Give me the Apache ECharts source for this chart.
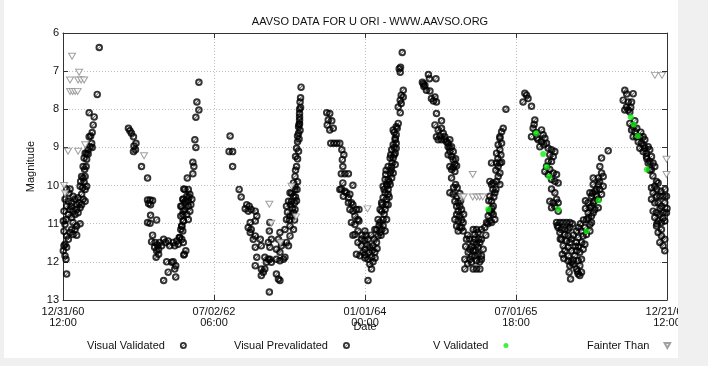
<!DOCTYPE html>
<html><head><meta charset="utf-8">
<script src="https://cdn.jsdelivr.net/npm/echarts@6/dist/echarts.min.js"></script>
<style>
html,body{margin:0;padding:0;background:#f0f0f0;width:708px;height:366px;overflow:hidden}
#c{position:absolute;left:4px;top:0;width:674px;height:358px;background:#fff}
</style></head><body><div id="c"></div>
<script>
// x values: decimal years; axis counted in years from EPOCH (12/31/60 12:00)
const EPOCH = 1961.0;
const tickLabels = ['12/31/60\n12:00', '07/02/62\n06:00', '01/01/64\n00:00', '07/01/65\n18:00', '12/21/66\n12:00'];
const magTicks = [6, 7, 8, 9, 10, 11, 12, 13];

const visualValidated = [
// cycle 1
[1961.36,6.38],[1961.34,7.61],[1961.26,8.09],[1961.31,8.2],[1961.30,8.41],[1961.29,8.61],[1961.275,8.7],[1961.26,8.72],[1961.285,8.89],[1961.27,8.98],[1961.25,9.06],[1961.235,9.15],[1961.25,9.17],[1961.29,9.0],[1961.22,9.15],[1961.21,9.28],[1961.235,9.31],[1961.23,9.5],[1961.20,9.5],[1961.215,9.58],[1961.185,9.76],[1961.20,9.8],[1961.22,9.76],[1961.175,9.89],[1961.21,9.91],[1961.235,10.02],[1961.17,10.02],[1961.195,10.06],[1961.22,10.1],
[1961.036,10.1],[1961.07,10.09],[1961.10,10.28],[1961.02,10.36],[1961.053,10.41],[1961.086,10.45],[1961.12,10.36],[1961.15,10.32],[1961.185,10.23],[1961.20,10.36],[1961.22,10.41],[1961.036,10.54],[1961.07,10.63],[1961.10,10.67],[1961.136,10.63],[1961.17,10.58],[1961.185,10.5],[1961.01,10.67],[1961.053,10.76],[1961.086,10.84],[1961.12,10.76],[1961.15,10.71],[1961.03,10.89],[1961.003,10.93],[1961.02,11.02],[1961.10,10.97],[1961.136,11.06],[1961.12,11.15],[1961.086,11.15],[1961.07,11.23],[1961.10,11.28],[1961.136,11.3],[1961.036,11.32],[1961.053,11.41],[1961.02,11.54],[1961.036,11.62],[1961.01,11.58],[1961.003,11.71],[1961.02,11.84],[1961.03,11.93],[1961.17,11.0],[1961.036,12.32],[1961.01,11.2],[1961.06,10.2],[1961.14,10.5],[1961.08,10.55],[1961.16,10.45],
// cycle 2
[1961.65,8.5],[1961.665,8.56],[1961.68,8.63],[1961.70,8.72],[1961.725,8.89],[1961.705,8.96],[1961.70,9.11],[1961.72,9.06],[1961.78,9.5],[1961.84,9.8],[1961.84,10.38],[1961.865,10.38],[1961.89,10.39],[1961.85,10.47],[1961.87,10.5],[1961.84,10.97],[1961.865,10.99],[1961.87,10.78],[1961.93,10.9],[1961.89,11.3],[1961.88,11.47],[1961.915,11.49],[1961.94,11.56],[1961.96,11.49],[1961.91,11.62],[1961.93,11.71],[1961.95,11.67],[1961.98,11.58],[1962.0,11.41],[1962.02,11.49],[1962.045,11.45],[1962.06,11.58],[1962.095,11.49],[1962.11,11.58],[1962.13,11.45],[1962.145,11.54],[1962.16,11.36],[1962.03,12.0],[1962.08,12.01],[1962.095,12.0],[1962.12,12.1],[1962.11,12.19],[1962.045,12.27],[1962.0,12.49],[1962.12,12.4],[1961.925,11.88],[1961.95,11.8],
[1962.2,10.09],[1962.19,10.36],[1962.17,10.54],[1962.195,10.67],[1962.17,10.8],[1962.195,10.93],[1962.18,11.06],[1962.17,11.15],[1962.155,11.36],[1962.195,11.49],[1962.205,11.8],
[1962.35,7.29],[1962.33,7.81],[1962.35,8.02],[1962.32,8.21],[1962.31,8.8],[1962.32,9.0],[1962.29,9.39],[1962.30,9.5],[1962.29,9.69],[1962.235,9.8],
[1962.21,10.1],[1962.245,10.1],[1962.26,10.23],[1962.23,10.28],[1962.195,10.36],[1962.245,10.41],[1962.28,10.36],[1962.21,10.45],[1962.245,10.54],[1962.18,10.54],[1962.21,10.63],[1962.26,10.67],[1962.23,10.76],[1962.19,10.76],[1962.245,10.89],[1962.195,10.93],[1962.18,11.06],[1962.19,11.19],[1962.18,11.41],[1962.22,11.71],[1962.2,11.82],[1962.27,10.5],[1962.25,10.3],[1962.22,10.4],
// cycle 3
[1962.66,8.7],[1962.65,9.11],[1962.685,9.11],[1962.685,9.5],[1962.75,10.1],[1962.77,10.3],
[1962.825,10.5],[1962.85,10.54],[1962.81,10.61],[1962.84,10.67],[1962.87,10.63],[1962.91,10.67],[1962.925,10.8],[1962.91,10.93],
[1962.86,10.97],[1962.84,11.1],[1962.87,11.15],[1962.86,11.23],[1962.91,11.32],[1962.89,11.41],[1962.96,11.41],[1962.97,11.58],[1962.91,11.62],[1962.925,11.88],[1963.005,11.88],[1963.04,11.93],[1963.07,12.01],[1963.055,11.93],[1963.02,12.01],[1963.12,11.93],[1963.155,11.97],[1963.19,11.93],[1963.205,11.88],[1962.91,12.1],[1962.97,12.19],[1963.005,12.19],[1962.99,12.27],[1962.97,12.36],[1963.12,12.32],[1963.14,12.45],[1963.155,12.49],[1963.05,12.79],[1963.055,10.97],[1963.05,11.19],[1963.07,11.41],[1963.04,11.49],[1963.055,11.62],[1963.12,11.67],[1963.155,11.75],[1963.17,11.58],[1963.14,11.41],[1963.155,11.23],[1963.17,11.49],[1963.22,11.49],[1963.24,11.58],[1963.255,11.32],[1963.205,11.15],[1963.255,11.06],[1963.29,11.15],[1963.22,10.89],[1963.255,10.8],[1963.29,10.71],[1963.305,10.63],[1963.22,10.54],[1963.24,10.41],[1963.27,10.41],[1963.29,10.28],[1963.255,10.19],[1963.305,10.1],[1963.305,10.02],[1963.29,9.93],[1963.305,9.76],[1963.32,9.5],[1963.31,9.24],[1963.32,9.02],[1963.33,8.85],[1963.34,8.63],[1963.34,8.46],[1963.35,8.28],[1963.35,8.11],[1963.355,7.81],[1963.365,7.42],
[1963.26,10.5],[1963.28,10.6],[1963.30,10.45],[1963.27,10.2],[1963.31,10.3],[1963.28,10.8],[1963.25,10.9],[1963.23,10.7],[1963.3,10.9],[1963.32,10.4],[1963.325,10.1],[1963.33,9.9],[1963.31,9.6],[1963.33,9.3],[1963.34,9.1],[1963.33,8.7],[1963.345,8.4],[1963.35,8.2],[1963.35,8.0],[1963.36,7.7],[1963.355,8.55],[1963.35,8.38],[1963.345,8.78],[1963.36,7.95],
// cycle 4
[1963.62,8.09],[1963.65,8.11],[1963.635,8.28],[1963.67,8.3],[1963.625,8.41],[1963.65,8.54],[1963.685,8.5],[1963.66,8.89],[1963.69,8.89],[1963.72,8.89],[1963.75,8.89],[1963.77,9.06],[1963.79,9.19],[1963.775,9.32],[1963.78,9.5],[1963.765,9.69],[1963.8,9.69],[1963.835,9.69],[1963.78,9.93],[1963.765,10.09],[1963.75,10.1],[1963.8,10.15],[1963.785,10.28],[1963.815,10.19],[1963.85,10.23],[1963.835,10.32],[1963.88,9.99],[1963.865,10.45],[1963.835,10.45],[1963.88,10.5],[1963.85,10.63],[1963.88,10.67],[1963.915,10.63],[1963.94,10.63],[1963.9,10.8],[1963.93,10.89],[1963.865,10.97],[1963.9,11.02],[1963.94,10.93],[1963.9,11.28],[1963.88,11.3],[1963.93,11.19],[1963.999,11.19],[1963.965,11.41],[1963.93,11.49],[1963.999,11.45],[1964.03,11.41],[1963.965,11.58],[1963.999,11.67],[1964.048,11.62],[1963.915,11.8],[1963.95,11.84],[1963.999,11.82],[1964.03,11.93],[1964.065,11.88],[1964.098,11.75],[1964.08,11.58],[1964.115,11.49],[1964.13,11.32],[1964.098,11.15],[1964.115,11.15],[1964.065,12.19],[1964.048,12.06],[1964.03,12.49],
[1963.97,11.3],[1964.01,11.3],[1964.02,11.55],[1963.98,11.75],[1964.04,11.75],[1964.07,11.7],[1964.09,11.4],[1964.06,11.3],[1964.1,11.9],[1964.12,11.65],[1964.0,11.9],[1964.08,12.0],
[1964.15,11.23],[1964.165,11.15],[1964.2,11.19],[1964.15,10.97],[1964.13,10.89],[1964.18,10.89],[1964.215,10.89],[1964.165,10.67],[1964.15,10.63],[1964.2,10.63],[1964.165,10.45],[1964.18,10.32],[1964.215,10.36],[1964.2,10.19],[1964.23,10.23],[1964.23,10.1],[1964.18,10.02],[1964.215,9.97],[1964.25,9.97],[1964.2,9.84],[1964.23,9.84],[1964.265,9.8],[1964.206,9.71],[1964.25,9.67],[1964.28,9.67],[1964.23,9.5],[1964.265,9.5],[1964.3,9.45],[1964.25,9.28],[1964.28,9.28],[1964.3,9.15],[1964.265,9.06],[1964.31,9.02],[1964.28,8.93],[1964.31,8.89],[1964.3,8.76],[1964.31,8.67],[1964.28,8.54],[1964.31,8.46],[1964.33,8.37],[1964.35,8.09],[1964.33,7.94],[1964.36,7.85],[1964.35,7.76],[1964.38,7.68],[1964.36,7.63],[1964.38,7.5],[1964.35,7.03],[1964.34,6.94],[1964.353,6.9],[1964.37,6.51],
[1964.17,10.5],[1964.19,10.75],[1964.21,10.5],[1964.22,10.0],[1964.24,9.9],[1964.19,10.1],[1964.26,9.6],[1964.27,9.4],[1964.29,9.2],[1964.29,9.0],[1964.3,8.8],[1964.29,8.6],[1964.32,8.5],[1964.24,10.3],[1964.18,11.05],[1964.14,11.05],[1964.16,11.3],[1964.21,9.6],[1964.255,9.2],[1964.23,10.5],
// cycle 5
[1964.57,7.29],[1964.585,7.4],[1964.58,7.33],[1964.595,7.37],[1964.61,7.5],[1964.63,7.09],[1964.64,7.2],[1964.645,7.52],[1964.705,7.2],[1964.66,7.72],[1964.68,7.78],[1964.695,7.68],[1964.71,7.81],[1964.71,8.11],[1964.76,8.3],[1964.695,8.41],[1964.727,8.54],[1964.71,8.72],[1964.745,8.7],[1964.76,8.5],[1964.777,8.63],[1964.793,8.72],[1964.727,8.8],[1964.76,8.8],[1964.793,8.8],[1964.81,8.85],[1964.826,8.89],[1964.843,8.8],[1964.826,8.98],[1964.86,8.98],[1964.843,9.11],[1964.876,9.11],[1964.826,9.19],[1964.86,9.24],[1964.876,9.32],[1964.893,9.45],[1964.843,9.5],[1964.876,9.52],[1964.91,9.48],[1964.86,9.58],[1964.893,9.63],[1964.9,9.97],[1964.916,10.06],[1964.843,10.19],[1964.876,10.23],[1964.91,10.28],[1964.942,10.21],[1964.893,10.41],[1964.926,10.45],[1964.91,10.54],[1964.942,10.54],[1964.959,10.63],[1964.926,10.67],[1964.91,10.76],[1964.893,10.89],[1964.926,10.93],[1964.959,10.9],[1964.942,10.8],[1964.975,10.97],[1964.91,11.06],[1964.942,11.1],[1964.975,11.19],[1964.926,11.19],[1965.008,11.41],[1965.04,11.41],[1965.075,11.15],[1965.091,11.28],[1965.108,11.15],[1965.124,11.23],[1965.075,11.49],[1965.108,11.54],[1965.141,11.49],[1965.157,11.41],[1965.042,11.67],[1965.075,11.71],[1965.025,11.75],[1965.091,11.84],[1965.124,11.8],[1965.157,11.84],[1964.992,11.93],[1965.042,11.93],[1965.108,11.97],[1965.157,11.93],[1964.992,12.19],[1965.075,12.19],[1965.108,12.19],[1965.141,12.19],[1965.058,12.01],[1965.124,11.62],[1965.174,11.67],[1965.157,11.15],[1965.19,11.1],[1965.207,10.97],[1965.224,10.8],[1965.24,10.67],[1965.257,10.71],[1965.274,10.76],[1965.29,10.89],[1965.24,10.93],[1965.257,10.97],[1965.274,10.54],[1965.257,10.41],[1965.24,10.28],[1965.29,10.19],[1965.257,9.97],[1965.24,9.89],[1965.274,9.93],[1965.307,9.89],[1965.34,9.97],[1965.323,9.76],[1965.34,9.67],[1965.323,9.5],[1965.307,9.41],[1965.34,9.41],[1965.357,9.39],[1965.257,9.41],[1965.307,9.15],[1965.34,9.06],[1965.323,8.93],[1965.357,8.89],[1965.34,8.76],[1965.357,8.59],[1965.373,8.5],[1965.34,8.72],[1965.4,8.0],
[1965.0,11.6],[1965.02,11.3],[1965.06,11.6],[1965.09,11.4],[1965.13,11.4],[1965.1,11.7],[1965.14,12.0],[1965.06,11.85],[1965.02,12.05],[1965.2,11.3],[1965.22,11.0],[1965.26,10.6],[1965.28,10.3],[1965.3,10.1],[1965.23,10.4],[1965.27,10.1],[1965.3,9.6],[1965.32,9.3],[1965.35,9.2],[1964.96,11.1],[1964.98,10.75],[1964.95,10.4],[1964.88,10.05],[1964.86,9.8],[1964.9,9.3],[1964.84,9.0],
// cycle 6
[1965.57,7.81],[1965.588,7.58],[1965.605,7.63],[1965.62,7.72],[1965.654,7.92],[1965.687,8.28],[1965.67,8.5],[1965.697,8.61],[1965.654,8.72],[1965.72,8.8],[1965.737,8.98],[1965.68,8.4],[1965.71,8.75],
[1965.754,8.54],[1965.77,8.67],[1965.787,8.76],[1965.754,8.85],[1965.777,8.93],[1965.803,8.89],[1965.82,9.02],[1965.853,9.06],[1965.886,9.11],[1965.836,9.19],[1965.87,9.24],[1965.82,9.37],[1965.853,9.37],[1965.803,9.5],[1965.836,9.58],[1965.787,9.63],[1965.82,9.71],[1965.87,9.67],[1965.903,9.71],[1965.853,9.84],[1965.886,9.89],[1965.919,9.93],[1965.853,10.09],[1965.886,10.19],[1965.903,10.36],[1965.919,10.45],[1965.836,10.41],[1965.87,10.45],[1965.886,10.54],[1965.853,10.58],[1965.919,10.67],
[1965.903,10.97],[1965.936,10.97],[1965.969,10.97],[1966.002,10.97],[1966.035,10.97],[1965.919,11.1],[1965.952,11.15],[1965.985,11.15],[1966.018,11.15],[1966.035,11.1],[1965.936,11.23],[1965.985,11.28],[1966.018,11.32],[1965.952,11.41],[1966.002,11.45],[1966.035,11.49],[1965.969,11.58],[1966.018,11.62],[1965.985,11.71],[1966.052,11.71],[1965.975,11.91],[1966.018,11.97],[1966.052,12.01],[1966.035,12.1],[1966.068,12.06],[1966.028,12.27],[1966.042,12.45],[1966.118,12.32],[1966.134,12.36],[1966.151,12.27],[1966.101,12.19],[1966.134,12.1],[1966.118,11.97],[1966.085,11.84],[1966.151,11.93],[1966.101,11.71],[1966.134,11.75],[1966.167,11.67],[1966.101,11.49],[1966.151,11.49],[1966.184,11.54],[1966.118,11.36],[1966.167,11.32],[1966.2,11.28],[1966.101,11.19],[1966.151,11.19],[1966.234,11.19],[1966.184,11.1],[1966.234,11.02],[1966.25,10.97],[1966.2,10.89],[1966.25,10.8],[1966.217,10.71],[1966.267,10.71],[1966.234,10.58],[1966.284,10.63],[1966.317,10.58],[1966.217,10.45],[1966.267,10.45],[1966.317,10.36],[1966.25,10.28],[1966.3,10.28],[1966.35,10.23],[1966.234,10.19],[1966.284,10.15],[1966.333,10.1],[1966.267,9.97],[1966.317,9.97],[1966.366,10.02],[1966.267,9.8],[1966.317,9.8],[1966.366,9.76],[1966.35,9.67],[1966.333,9.5],[1966.35,9.28],[1966.416,9.09],
[1966.07,11.3],[1966.06,11.0],[1966.09,11.6],[1966.12,11.1],[1966.14,11.0],[1966.17,10.9],[1966.19,10.6],[1966.22,10.85],[1966.25,10.55],[1966.28,10.4],[1966.3,10.1],[1966.33,9.9],[1966.19,10.4],[1966.26,10.2],[1966.02,11.85],[1966.07,11.95],[1966.11,12.25],[1965.96,11.8],[1965.94,11.4],[1965.91,11.05],[1966.12,11.6],[1966.05,11.4],
// cycle 7
[1966.581,7.5],[1966.664,7.59],[1966.565,7.76],[1966.615,7.81],[1966.648,7.81],[1966.598,7.94],[1966.615,8.02],[1966.581,8.02],[1966.631,8.07],[1966.631,8.37],[1966.664,8.46],[1966.648,8.54],[1966.681,8.59],[1966.664,8.72],[1966.697,8.72],[1966.73,8.72],[1966.763,8.72],[1966.714,8.85],[1966.747,8.89],[1966.78,8.8],[1966.73,9.02],[1966.78,9.02],[1966.813,8.98],[1966.763,9.11],[1966.796,9.15],[1966.829,9.06],[1966.796,9.24],[1966.846,9.24],[1966.829,9.37],[1966.862,9.41],[1966.879,9.5],[1966.813,9.41],[1966.846,9.58],[1966.896,9.89],[1966.912,9.93],[1966.879,10.02],[1966.846,10.06],[1966.862,10.19],[1966.896,10.28],[1966.929,10.28],[1966.962,10.28],[1966.995,10.28],[1966.846,10.36],[1966.879,10.45],[1966.912,10.45],[1966.945,10.54],[1966.978,10.45],[1966.862,10.67],[1966.896,10.71],[1966.929,10.76],[1966.962,10.71],[1966.995,10.71],[1966.879,10.84],[1966.912,10.93],[1966.945,10.97],[1966.978,10.93],[1967.011,10.89],[1966.912,11.23],[1966.945,11.32],[1966.978,11.41],[1967.011,11.41],[1966.929,11.49],[1966.962,11.58],[1966.978,11.71],[1966.896,11.06],[1966.945,11.15],
[1966.6,7.6],[1966.64,7.95],[1966.68,8.3],[1966.7,8.5],[1966.74,8.6],[1966.77,8.95],[1966.8,9.3],[1966.83,9.6],[1966.86,9.75],[1966.9,10.1],[1966.94,10.15],[1966.98,10.1],[1966.93,10.6],[1966.9,11.0],[1966.96,10.85],[1967.0,10.6]
];
const visualPrevalidated = [];
const vValidated = [
[1965.70,8.63],[1965.77,9.17],[1965.805,9.51],[1965.83,9.77],[1965.92,10.62],[1966.2,11.2],[1966.32,10.39],[1965.225,10.62],[1966.64,8.2],[1966.67,8.4],[1966.71,8.7],[1966.8,9.58]
];
const fainterThan = [
[1961.09,6.61],[1961.16,7.03],[1961.07,7.23],[1961.15,7.23],[1961.18,7.23],[1961.21,7.23],[1961.07,7.53],[1961.095,7.53],[1961.12,7.53],[1961.145,7.53],[1961.05,9.1],[1961.15,9.1],[1961.22,8.93],[1961.01,10.0],[1961.02,10.2],[1961.805,9.22],[1963.05,10.49],[1963.07,10.99],[1963.16,11.5],[1963.27,10.02],[1963.315,10.82],[1964.025,10.61],[1964.96,10.3],[1964.98,10.3],[1965.07,10.3],[1965.11,10.3],[1965.14,10.3],[1965.17,10.3],[1965.07,9.71],[1966.88,7.11],[1966.95,7.11],[1966.995,9.31],[1966.995,9.71]
];

const toAxis = arr => arr.map(p => [p[0] - EPOCH, p[1]]);
const TRI = 'path://M0,0 L10,0 L5,9 Z';
// ring with a diagonal bar, like the gnuplot "circle with slash" marker
const RING = 'path://M5,0A5,5,0,1,1,4.99,0ZM5,2.6A2.4,2.4,0,1,0,5.01,2.6ZM3.2,6.2L6.2,3.2L6.8,3.8L3.8,6.8Z';
const txt = '#111';
const FONT = 'Liberation Sans, Arial, sans-serif';

const chart = echarts.init(document.getElementById('c'), null, {renderer: 'canvas'});
function legendAt(name, left, icon, w, h) {
  return {
    data: [{name: name, icon: icon}], left: left, top: 340, align: 'right', orient: 'horizontal',
    padding: 0, itemWidth: w, itemHeight: h, selectedMode: false,
    textStyle: {fontSize: 11, color: txt, fontFamily: FONT, padding: [0, 10, 0, 0]}
  };
}
const axisCommon = {
  axisLine: {show: true, onZero: false, lineStyle: {color: '#333', width: 1}},
  axisTick: {show: true, inside: true, length: 5, lineStyle: {color: '#333'}}
};
const markStyle = {color: '#000', borderWidth: 0};
chart.setOption({
  animation: false,
  backgroundColor: '#fff',
  textStyle: {fontFamily: FONT},
  title: {text: 'AAVSO DATA FOR U ORI - WWW.AAVSO.ORG', left: 361, top: 11, textAlign: 'center',
    textStyle: {fontSize: 11, fontWeight: 'normal', color: txt, fontFamily: FONT}},
  grid: {left: 59, right: 11, top: 33, bottom: 58, containLabel: false, outerBoundsMode: 'none'},
  legend: [
    legendAt('Visual Validated', 83, RING, 7, 7),
    legendAt('Visual Prevalidated', 230, RING, 7, 7),
    legendAt('V Validated', 429, 'circle', 5, 5),
    legendAt('Fainter Than', 583, TRI, 6, 5)
  ],
  xAxis: [
    Object.assign({}, axisCommon, {
      type: 'value', position: 'bottom', min: 0, max: 6, interval: 1.5,
      name: 'Date', nameLocation: 'middle', nameGap: 21, nameMoveOverlap: false,
      nameTextStyle: {fontSize: 11, color: txt, fontFamily: FONT},
      axisLabel: {fontSize: 11, color: txt, margin: 6, lineHeight: 11, showMinLabel: true, showMaxLabel: true,
        hideOverlap: false, formatter: v => tickLabels[Math.round(v / 1.5)] || ''},
      splitLine: {show: true, lineStyle: {color: '#bdbdbd', type: [1, 2], width: 1}}
    }),
    Object.assign({}, axisCommon, {
      type: 'value', position: 'top', min: 0, max: 6, interval: 1.5,
      axisLabel: {show: false}, splitLine: {show: false}
    })
  ],
  yAxis: [
    Object.assign({}, axisCommon, {
      type: 'value', position: 'left', inverse: true, min: magTicks[0], max: magTicks[magTicks.length - 1], interval: 1,
      name: 'Magnitude', nameLocation: 'middle', nameGap: 27, nameRotate: 90, nameMoveOverlap: false,
      nameTextStyle: {fontSize: 11, color: txt, fontFamily: FONT},
      axisLabel: {fontSize: 11, color: txt, margin: 4},
      splitLine: {show: true, lineStyle: {color: '#bdbdbd', type: [1, 2], width: 1}}
    }),
    Object.assign({}, axisCommon, {
      type: 'value', position: 'right', inverse: true, min: magTicks[0], max: magTicks[magTicks.length - 1], interval: 1,
      axisLabel: {show: false}, splitLine: {show: false}
    })
  ],
  series: [
    {name: 'Visual Validated', type: 'scatter', xAxisIndex: 0, yAxisIndex: 0, data: toAxis(visualValidated),
      symbol: RING, symbolSize: 7.5, itemStyle: markStyle},
    {name: 'Visual Prevalidated', type: 'scatter', xAxisIndex: 0, yAxisIndex: 0, data: toAxis(visualPrevalidated),
      symbol: RING, symbolSize: 7.5, itemStyle: markStyle},
    {name: 'V Validated', type: 'scatter', xAxisIndex: 0, yAxisIndex: 0, data: toAxis(vValidated),
      symbol: 'circle', symbolSize: 6, itemStyle: {color: '#11ee11'}, z: 5},
    {name: 'Fainter Than', type: 'scatter', xAxisIndex: 0, yAxisIndex: 0, data: toAxis(fainterThan),
      symbol: TRI, symbolSize: [7, 6], itemStyle: {color: '#fff', borderColor: '#888', borderWidth: 1}}
  ]
});
</script></body></html>
